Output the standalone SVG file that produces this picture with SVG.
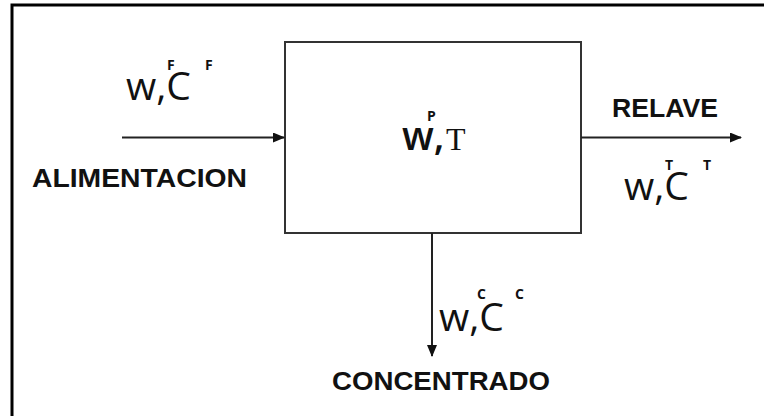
<svg xmlns="http://www.w3.org/2000/svg" width="764" height="416" viewBox="0 0 764 416">
<style>
.lbl{font-family:"Liberation Sans","Open Sans",sans-serif;font-weight:700;font-size:26px;fill:#111}
.var{font-family:"Open Sans","Liberation Sans",sans-serif;font-size:39px;fill:#111}
.sup{font-family:"Open Sans","Liberation Sans",sans-serif;font-weight:700;font-size:14px;fill:#111}
.ser{font-family:"Liberation Serif",serif;font-size:32px;fill:#111}
.ln{stroke:#222;stroke-width:2;fill:none}
</style>
<defs>
<marker id="ah" markerWidth="12" markerHeight="10" refX="11" refY="5" orient="auto" markerUnits="userSpaceOnUse">
<path d="M0,0 L12,5 L0,10 Z" fill="#111"/>
</marker>
</defs>
<rect x="0" y="0" width="764" height="416" fill="#fff"/>
<path d="M12,416 V5 H764" fill="none" stroke="#000" stroke-width="3"/>
<g id="process">
<rect x="285" y="42" width="296" height="191" fill="#fff" stroke="#333" stroke-width="2"/>
<text class="var" x="402" y="150" font-weight="600" font-size="35">w,</text>
<text class="ser" x="446" y="150">T</text>
<text class="sup" x="427" y="121">P</text>
</g>
<g id="connectors">
<line class="ln" x1="122" y1="137.5" x2="284" y2="137.5" marker-end="url(#ah)"/>
<line class="ln" x1="581" y1="137.5" x2="741" y2="137.5" marker-end="url(#ah)"/>
<line class="ln" x1="432" y1="233" x2="432" y2="356" marker-end="url(#ah)"/>
</g>
<g id="feed">
<text class="var" x="126" y="100">w,C</text>
<text class="sup" x="167" y="70">F</text>
<text class="sup" x="205" y="70">F</text>
<text class="lbl" x="32" y="187" textLength="215" lengthAdjust="spacingAndGlyphs">ALIMENTACION</text>
</g>
<g id="tailings">
<text class="lbl" x="612" y="117" textLength="106" lengthAdjust="spacingAndGlyphs">RELAVE</text>
<text class="var" x="624" y="200">w,C</text>
<text class="sup" x="665" y="170">T</text>
<text class="sup" x="703" y="170">T</text>
</g>
<g id="concentrate">
<text class="var" x="439" y="331">w,C</text>
<text class="sup" x="477" y="299">C</text>
<text class="sup" x="515" y="299">C</text>
<text class="lbl" x="332" y="390" textLength="218" lengthAdjust="spacingAndGlyphs">CONCENTRADO</text>
</g>
</svg>
